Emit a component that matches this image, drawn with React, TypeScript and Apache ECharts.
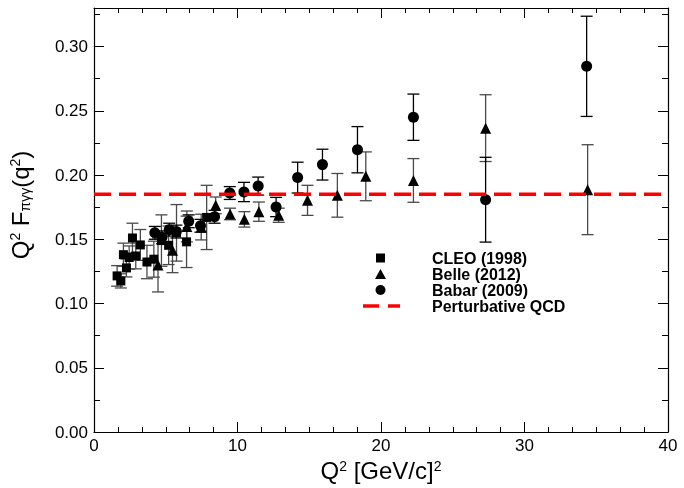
import React, { useEffect, useRef } from 'react';
import * as echarts from 'echarts';

// CLEO (1998)
const cleoQ2 = [1.61, 1.87, 2.05, 2.26, 2.45, 2.68, 2.91, 3.23, 3.69, 4.17, 4.7, 5.2, 5.75, 6.45, 7.85];
const cleoF = [0.1215, 0.1176, 0.138, 0.1277, 0.1358, 0.151, 0.137, 0.1456, 0.1323, 0.1345, 0.149, 0.1453, 0.155, 0.148, 0.167];
const cleoErr = [0.008, 0.0055, 0.009, 0.007, 0.009, 0.0115, 0.01, 0.012, 0.013, 0.014, 0.02, 0.015, 0.022, 0.02, 0.025];

// Belle (2012)
const belleQ2 = [4.46, 5.47, 6.47, 7.47, 8.48, 9.48, 10.48, 11.49, 12.87, 14.88, 16.96, 18.94, 22.26, 27.29, 34.4];
const belleF = [0.13, 0.1415, 0.16, 0.1595, 0.1764, 0.1697, 0.1655, 0.1715, 0.1687, 0.1803, 0.1842, 0.199, 0.1958, 0.2365, 0.1886];
const belleErr = [0.021, 0.0175, 0.012, 0.01, 0.0065, 0.0045, 0.006, 0.0075, 0.0055, 0.0117, 0.017, 0.019, 0.017, 0.026, 0.035];

// Babar (2009)
const babarQ2 = [4.24, 4.74, 5.24, 5.74, 6.6, 7.42, 8.4, 9.46, 10.45, 11.44, 12.69, 14.19, 15.92, 18.36, 22.26, 27.29, 34.33];
const babarF = [0.155, 0.1515, 0.1575, 0.156, 0.164, 0.1605, 0.1675, 0.186, 0.1868, 0.1914, 0.1751, 0.198, 0.2081, 0.2197, 0.245, 0.1808, 0.2846];
const babarErr = [0.005, 0.005, 0.005, 0.005, 0.005, 0.005, 0.005, 0.005, 0.0075, 0.007, 0.0075, 0.012, 0.012, 0.018, 0.018, 0.033, 0.039];

// Perturbative QCD limit
const qcdQ2 = [0, 40];
const qcdF = [0.185, 0.185];

const seriesNames = ['CLEO (1998)', 'Belle (2012)', 'Babar (2009)', 'Perturbative QCD'];

const FONT = '"Liberation Sans", Arial, Helvetica, sans-serif';

// legend icons (bounding box 37x10 fixed by zero-length moves at the corners)
const BOX = 'M0,0L0,0M37,10L37,10';
const iconSquare = 'path://' + BOX + 'M13,0.5L22,0.5L22,9.5L13,9.5Z';
const iconTriangle = 'path://' + BOX + 'M17.5,0L23,10L12,10Z';
const iconCircle = 'path://' + BOX + 'M12.5,5A5,5 0 1 0 22.5,5A5,5 0 1 0 12.5,5Z';
const iconDash = 'path://' + BOX + 'M0,3.25L16,3.25L16,6.75L0,6.75ZM25,3.25L37,3.25L37,6.75L25,6.75Z';

const zip3 = (a: number[], b: number[], c: number[]) => a.map((v, i) => [v, b[i], c[i]]);
const zip2 = (a: number[], b: number[]) => a.map((v, i) => [v, b[i]]);

const errRender = (color: string) => (params: any, api: any) => {
  const x = api.value(0);
  const y = api.value(1);
  const e = api.value(2);
  const lo = api.coord([x, y - e]);
  const hi = api.coord([x, y + e]);
  const cw = 6;
  const style = { stroke: color, lineWidth: 1.3 };
  return {
    type: 'group',
    children: [
      { type: 'line', shape: { x1: lo[0], y1: lo[1], x2: hi[0], y2: hi[1] }, style },
      { type: 'line', shape: { x1: lo[0] - cw, y1: lo[1], x2: lo[0] + cw, y2: lo[1] }, style },
      { type: 'line', shape: { x1: hi[0] - cw, y1: hi[1], x2: hi[0] + cw, y2: hi[1] }, style },
    ],
  };
};

export default function App() {
  const ref = useRef<HTMLDivElement>(null);
  useEffect(() => {
    const chart = echarts.init(ref.current!, null, { renderer: 'svg' });
    const axisLine = { show: true, onZero: false, lineStyle: { color: '#000', width: 1.2 } };
    const axisTick = { show: true, inside: true, length: 10, lineStyle: { color: '#000', width: 1 } };
    const rich = {
      a: { fontSize: 24, fontFamily: FONT, color: '#000' },
      s: { fontSize: 14, fontFamily: FONT, color: '#000', verticalAlign: 'top' },
      b: { fontSize: 14, fontFamily: FONT, color: '#000', verticalAlign: 'bottom' },
    };
    const option: any = {
      animation: false,
      grid: { left: 94, right: 16, top: 8, bottom: 56, containLabel: false },
      xAxis: [
        {
          type: 'value', min: 0, max: 40, interval: 10, position: 'bottom',
          axisLine, axisTick,
          minorTick: { show: true, splitNumber: 6, length: 5, lineStyle: { color: '#000' } },
          splitLine: { show: false },
          axisLabel: { fontSize: 17, color: '#000', margin: 5, fontFamily: FONT },
          name: '{a|Q}{s|2}{a| [GeV/c]}{s|2}',
          nameLocation: 'middle', nameGap: 23,
          nameTextStyle: { rich },
        },
        {
          type: 'value', min: 0, max: 40, interval: 10, position: 'top',
          axisLine, axisTick,
          minorTick: { show: true, splitNumber: 6, length: 5, lineStyle: { color: '#000' } },
          splitLine: { show: false },
          axisLabel: { show: false },
        },
      ],
      yAxis: [
        {
          type: 'value', min: 0, max: 0.33, interval: 0.05, position: 'left',
          axisLine, axisTick,
          minorTick: { show: true, splitNumber: 2, length: 6, lineStyle: { color: '#000' } },
          splitLine: { show: false },
          axisLabel: {
            fontSize: 17, color: '#000', margin: 6, fontFamily: FONT, showMaxLabel: false,
            formatter: (v: number) => v.toFixed(2),
          },
          name: '{a|Q}{s|2}{a| F}{b|πγγ}{a|(q}{s|2}{a|)}',
          nameLocation: 'middle', nameGap: 62, nameRotate: 90,
          nameTextStyle: { rich, padding: [0, 0, 0, 30] },
        },
        {
          type: 'value', min: 0, max: 0.33, interval: 0.05, position: 'right',
          axisLine, axisTick,
          minorTick: { show: true, splitNumber: 2, length: 6, lineStyle: { color: '#000' } },
          splitLine: { show: false },
          axisLabel: { show: false },
        },
      ],
      legend: {
        data: [
          { name: seriesNames[0], icon: iconSquare },
          { name: seriesNames[1], icon: iconTriangle },
          { name: seriesNames[2], icon: iconCircle },
          { name: seriesNames[3], icon: iconDash },
        ],
        orient: 'vertical', left: 358, top: 245,
        itemWidth: 37, itemHeight: 10, itemGap: 0,
        selectedMode: false,
        textStyle: { fontSize: 16, fontWeight: 'bold', color: '#000', fontFamily: FONT, lineHeight: 15, padding: [0, 0, 0, 27] },
      },
      series: [
        { type: 'custom', renderItem: errRender('#4a4a4a'), data: zip3(cleoQ2, cleoF, cleoErr), encode: { x: 0, y: 1 }, z: 2, silent: true },
        { type: 'custom', renderItem: errRender('#4a4a4a'), data: zip3(belleQ2, belleF, belleErr), encode: { x: 0, y: 1 }, z: 2, silent: true },
        { type: 'custom', renderItem: errRender('#000'), data: zip3(babarQ2, babarF, babarErr), encode: { x: 0, y: 1 }, z: 2, silent: true },
        { name: seriesNames[0], type: 'scatter', symbol: 'rect', symbolSize: 9, itemStyle: { color: '#000', opacity: 1 }, data: zip2(cleoQ2, cleoF), z: 3 },
        { name: seriesNames[1], type: 'scatter', symbol: 'triangle', symbolSize: 11, itemStyle: { color: '#000', opacity: 1 }, data: zip2(belleQ2, belleF), z: 3 },
        { name: seriesNames[2], type: 'scatter', symbol: 'circle', symbolSize: 11, itemStyle: { color: '#000', opacity: 1 }, data: zip2(babarQ2, babarF), z: 3 },
        {
          name: seriesNames[3], type: 'line', symbol: 'none', showSymbol: false,
          data: zip2(qcdQ2, qcdF), z: 4,
          itemStyle: { color: '#ff0000' },
          lineStyle: { color: '#ff0000', width: 3.5, type: [17, 8] },
        },
      ],
    };
    chart.setOption(option);
    return () => chart.dispose();
  }, []);
  return <div ref={ref} style={{ position: 'fixed', left: 0, top: 0, width: 684, height: 488 }} />;
}
